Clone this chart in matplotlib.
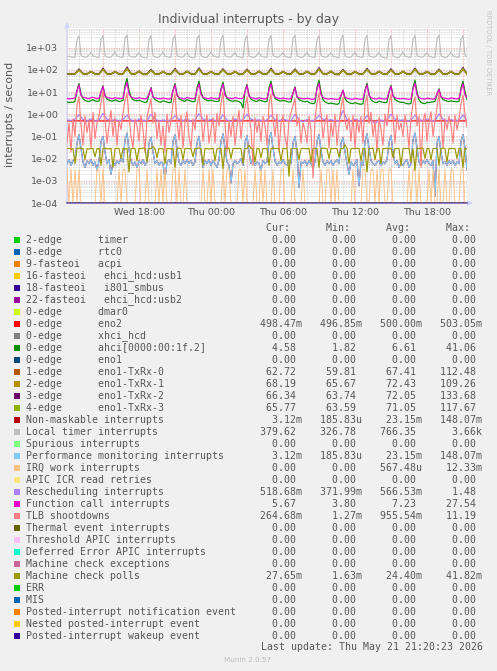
import numpy as np
import matplotlib
matplotlib.use("Agg")
import matplotlib.pyplot as plt
from matplotlib.patches import Rectangle

W, H = 497, 671

# ---- legend / stats ------------------------------------------------------ #
labels = [
    "2-edge      timer", "8-edge      rtc0", "9-fasteoi   acpi",
    "16-fasteoi   ehci_hcd:usb1", "18-fasteoi   i801_smbus",
    "22-fasteoi   ehci_hcd:usb2", "0-edge      dmar0", "0-edge      eno2",
    "0-edge      xhci_hcd", "0-edge      ahci[0000:00:1f.2]", "0-edge      eno1",
    "1-edge      eno1-TxRx-0", "2-edge      eno1-TxRx-1",
    "3-edge      eno1-TxRx-2", "4-edge      eno1-TxRx-3",
    "Non-maskable interrupts", "Local timer interrupts", "Spurious interrupts",
    "Performance monitoring interrupts", "IRQ work interrupts",
    "APIC ICR read retries", "Rescheduling interrupts",
    "Function call interrupts", "TLB shootdowns", "Thermal event interrupts",
    "Threshold APIC interrupts", "Deferred Error APIC interrupts",
    "Machine check exceptions", "Machine check polls", "ERR", "MIS",
    "Posted-interrupt notification event", "Nested posted-interrupt event",
    "Posted-interrupt wakeup event",
]
colors = [
    "#00CC00", "#0066B3", "#FF8000", "#FFCC00", "#330099", "#990099", "#CCFF00",
    "#FF0000", "#808080", "#008F00", "#00487D", "#B35A00", "#B38F00", "#6B006B",
    "#8FB300", "#B30000", "#BEBEBE", "#80FF80", "#80C9FF", "#FFC080", "#FFE680",
    "#AA80FF", "#EE00CC", "#FF8080", "#666600", "#FFBFFF", "#00FFCC", "#CC6699",
    "#999900", "#00CC00", "#0066B3", "#FF8000", "#FFCC00", "#330099",
]
cur = [0, 0, 0, 0, 0, 0, 0, 498.47e-3, 0, 4.58, 0, 62.72, 68.19, 66.34, 65.77,
       3.12e-3, 379.62, 0, 3.12e-3, 0, 0, 518.68e-3, 5.67, 264.68e-3,
       0, 0, 0, 0, 27.65e-3, 0, 0, 0, 0, 0]
mins = [0, 0, 0, 0, 0, 0, 0, 496.85e-3, 0, 1.82, 0, 59.81, 65.67, 63.74, 63.59,
        185.83e-6, 326.78, 0, 185.83e-6, 0, 0, 371.99e-3, 3.80, 1.27e-3,
        0, 0, 0, 0, 1.63e-3, 0, 0, 0, 0, 0]
avgs = [0, 0, 0, 0, 0, 0, 0, 500.00e-3, 0, 6.61, 0, 67.41, 72.43, 72.05, 71.05,
        23.15e-3, 766.35, 0, 23.15e-3, 567.48e-6, 0, 566.53e-3, 7.23, 955.54e-3,
        0, 0, 0, 0, 24.40e-3, 0, 0, 0, 0, 0]
maxs = [0, 0, 0, 0, 0, 0, 0, 503.05e-3, 0, 41.06, 0, 112.48, 109.26, 133.68, 117.67,
        148.07e-3, 3660.0, 0, 148.07e-3, 12.33e-3, 0, 1.48, 27.54, 11.19,
        0, 0, 0, 0, 41.82e-3, 0, 0, 0, 0, 0]

xtick_pos = [6, 12, 18, 24, 30]          # hours after Wed 12:00
xtick_labels = ["Wed 18:00", "Thu 00:00", "Thu 06:00", "Thu 12:00", "Thu 18:00"]
ytick_exp = [-4, -3, -2, -1, 0, 1, 2, 3]
ytick_labels = ["1e-04", "1e-03", "1e-02", "1e-01", "1e+00", "1e+01", "1e+02", "1e+03"]

# ---- series, 10-minute samples -------------------------------------------- #
local_timer = """
400 410 380 370 360 2300 3400 440 390 370 380 470
610 420 390 360 350 2400 3500 430 380 360 370 480
650 430 380 370 360 2600 3660 450 390 380 370 460
600 410 370 350 340 2300 3450 420 380 360 370 490
630 420 380 370 360 2400 3500 440 390 370 380 470
590 400 370 350 350 2500 3550 430 380 360 360 480
640 420 390 370 360 2400 3600 440 390 370 380 470
600 410 380 360 330 2300 3400 430 380 360 370 480
620 420 380 370 360 2400 3500 440 390 370 380 470
610 410 370 360 350 2500 3550 430 380 360 370 480
630 420 380 370 360 2300 3450 440 390 370 380 470
600 410 380 360 350 2400 3600 430 380 360 370 480
620 420 380 370 360 2400 3500 440 390 370 380 470
610 410 370 350 340 2300 3450 420 380 350 360 480
630 420 380 370 360 2400 3500 440 390 370 380 470
600 410 380 360 350 2500 3600 430 380 360 370 480
620 420 380 370 360 2400 3500 450 380
"""
ahci = """
3.6 3.3 3.5 3.4 3.8 12 24 8 5 4.2 3.9 3.7
4.2 4.5 4.0 3.8 3.9 10 19 7 4.8 4.3 4.0 3.9
4.4 4.1 3.7 3.9 4.2 20 41 12 6 4.5 4.2 4.0
4.3 3.9 3.6 3.4 3.6 8 16 6 4.5 4.0 3.6 3.5
4.0 3.8 3.5 3.3 3.4 12 24 8 5 4.4 4.1 3.8
4.5 4.2 3.9 3.6 3.8 15 31 10 5.5 4.6 4.2 4.0
4.3 4.0 3.8 3.7 3.9 14 28 9 5 4.3 4.0 3.8
4.1 3.9 3.7 3.2 1.9 11 22 7 4.8 4.2 3.9 3.7
4.4 4.1 3.8 3.6 3.8 15 31 10 5.2 4.5 4.1 3.9
4.2 4.0 3.7 3.5 3.6 9 17 6 4.6 4.1 3.8 3.6
3.9 3.4 3.1 3.0 3.2 16 34 10 4.5 3.6 3.2 3.0
3.2 3.0 2.9 2.8 3.0 7 12 5 3.8 3.3 3.1 3.0
3.3 3.1 2.9 2.8 3.0 12 25 8 4.5 3.8 3.4 3.3
3.9 3.6 3.4 3.3 3.5 10 20 7 4.6 4.0 3.6 3.4
3.4 3.2 3.0 2.9 3.1 16 34 10 4.4 3.4 3.1 3.0
3.4 3.3 3.5 3.6 3.8 8 14 6 4.6 4.2 3.9 3.7
4.0 3.8 3.7 3.6 3.8 15 31 10 4.58
"""
func_call = """
5.1 4.9 5.0 5.2 5.4 11 21 7 5.8 5.5 5.2 5.0
5.6 5.8 5.3 5.1 5.2 10 18 6.5 5.7 5.4 5.1 5.0
5.5 5.3 5.1 5.0 5.3 14 27.5 8 6.0 5.5 5.2 5.1
5.6 5.2 5.0 4.9 5.1 8 15 6 5.5 5.2 5.0 4.9
5.4 5.1 4.9 4.8 5.0 11 21 7 5.6 5.3 5.0 4.9
5.7 5.3 5.1 5.0 5.2 12 24 7.5 5.9 5.4 5.1 5.0
5.5 5.2 5.0 4.9 5.1 12 23 7 5.7 5.3 5.1 5.0
5.6 5.3 5.1 5.0 5.2 10 20 6.5 5.6 5.3 5.0 4.9
5.5 5.2 5.0 4.9 5.1 12 24 7.5 5.8 5.4 5.1 5.0
5.4 5.1 4.9 4.8 5.0 9 16 6 5.5 5.2 5.0 4.9
5.3 5.0 4.8 4.7 4.9 13 25 7.5 5.6 5.2 4.9 4.8
5.1 4.9 4.8 4.7 4.8 7 12 5.8 5.3 5.0 4.8 4.7
5.2 5.0 4.8 4.7 4.9 11 21 7 5.6 5.2 4.9 4.8
5.4 5.1 4.9 4.8 5.0 10 18 6.5 5.6 5.2 5.0 4.9
5.2 5.0 4.8 4.7 4.9 13 25 7.5 5.5 5.1 4.9 4.8
5.3 5.1 4.9 4.8 5.0 8 13 6 5.5 5.2 5.0 4.9
5.4 5.2 5.0 4.9 5.1 12 24 7.5 5.67
"""
tlb = """
0.05 0.4 0.02 0.6 0.1 2.5 6 0.3 0.04 0.8 0.15 0.5
0.03 1.2 0.08 0.4 0.9 3 11.19 0.6 0.05 0.3 1.5 0.1
0.7 0.04 0.5 0.2 1.1 4 9 0.8 0.1 0.03 0.6 0.3
0.06 0.9 0.2 0.02 0.7 2 5 0.4 1.2 0.08 0.5 0.04
0.3 0.02 1 0.15 0.5 3 8 0.5 0.07 0.9 0.03 0.4
1.3 0.1 0.03 0.6 0.2 2.5 7 1 0.06 0.4 0.9 0.05
0.2 0.7 0.05 1.1 0.3 3 10 0.4 0.02 0.5 0.1 0.8
0.04 0.3 1.5 0.08 0.6 2 6 0.9 0.2 0.005 0.7 0.15
0.5 0.06 0.8 0.3 0.04 3 8 0.6 0.1 1 0.02 0.4
0.9 0.1 0.03 0.5 1.2 2.5 5 0.3 0.7 0.05 0.4 0.2
0.05 0.8 0.2 0.0013 0.6 3 9 1.1 0.08 0.4 0.9 0.03
0.4 0.1 1 0.04 0.3 2 6 0.5 0.2 0.7 0.06 0.9
0.03 0.6 0.15 0.8 0.05 3 7 0.4 1.2 0.1 0.5 0.02
0.7 0.2 0.04 1 0.3 2.5 8 0.6 0.05 0.9 0.2 0.4
0.1 0.9 0.3 0.03 0.7 3 6 0.3 0.8 0.004 0.5 1.1
0.06 0.4 1.3 0.1 0.5 2 9 0.7 0.03 0.6 0.2 0.8
0.3 0.05 0.9 0.2 0.6 3 7 1 0.26
"""
perf_mon = """
0.006 0.009 0.005 0.008 0.01 0.05 0.12 0.03 0.007 0.004 0.008 0.006
0.009 0.005 0.007 0.003 0.008 0.06 0.1 0.02 0.006 0.009 0.002 0.007
0.005 0.008 0.006 0.01 0.007 0.07 0.14 0.025 0.008 0.005 0.007 0.004
0.008 0.006 0.009 0.005 0.007 0.05 0.09 0.02 0.006 0.008 0.005 0.007
0.006 0.0012 0.007 0.009 0.006 0.06 0.12 0.03 0.007 0.005 0.008 0.006
0.009 0.006 0.008 0.005 0.007 0.05 0.1 0.02 0.004 0.008 0.006 0.009
0.005 0.008 0.006 0.004 0.009 0.06 0.13 0.03 0.007 0.005 0.0008 0.006
0.008 0.006 0.007 0.01 0.005 0.05 0.11 0.02 0.006 0.009 0.005 0.007
0.006 0.003 0.008 0.006 0.007 0.07 0.148 0.03 0.008 0.005 0.007 0.006
0.009 0.006 0.005 0.008 0.006 0.05 0.1 0.02 0.0005 0.007 0.006 0.008
0.005 0.008 0.006 0.004 0.007 0.06 0.12 0.025 0.007 0.005 0.008 0.006
0.008 0.005 0.007 0.009 0.006 0.05 0.09 0.02 0.006 0.002 0.007 0.005
0.006 0.009 0.0006 0.007 0.005 0.06 0.13 0.03 0.008 0.006 0.005 0.007
0.008 0.005 0.007 0.006 0.009 0.05 0.11 0.02 0.006 0.008 0.004 0.006
0.005 0.007 0.009 0.004 0.006 0.07 0.14 0.03 0.007 0.005 0.008 0.006
0.009 0.006 0.005 0.008 0.0002 0.05 0.1 0.02 0.006 0.007 0.005 0.008
0.006 0.008 0.005 0.007 0.006 0.06 0.12 0.03 0.0031
"""
mc_polls = """
0.028 0.029 0.027 0.028 0.006 0.028 0.030 0.029 0.028 0.009 0.028 0.027
0.029 0.028 0.012 0.028 0.029 0.005 0.028 0.030 0.028 0.027 0.029 0.004
0.028 0.029 0.028 0.010 0.028 0.027 0.029 0.0025 0.028 0.029 0.028 0.008
0.029 0.028 0.030 0.028 0.007 0.029 0.028 0.035 0.028 0.011 0.029 0.028
0.028 0.006 0.029 0.028 0.027 0.029 0.004 0.028 0.030 0.028 0.009 0.028
0.029 0.028 0.028 0.012 0.029 0.028 0.030 0.028 0.005 0.029 0.028 0.027
0.028 0.029 0.008 0.028 0.029 0.028 0.0035 0.029 0.028 0.030 0.010 0.028
0.029 0.028 0.029 0.028 0.006 0.029 0.028 0.040 0.029 0.028 0.007 0.029
0.028 0.011 0.029 0.028 0.029 0.005 0.028 0.030 0.028 0.029 0.028 0.008
0.029 0.028 0.030 0.0016 0.028 0.029 0.028 0.029 0.009 0.028 0.029 0.028
0.028 0.029 0.007 0.028 0.029 0.028 0.004 0.028 0.030 0.029 0.028 0.010
0.029 0.028 0.029 0.028 0.012 0.029 0.028 0.0418 0.029 0.006 0.028 0.029
0.028 0.029 0.028 0.008 0.029 0.028 0.0025 0.029 0.028 0.030 0.009 0.028
0.029 0.006 0.029 0.028 0.029 0.028 0.030 0.011 0.028 0.029 0.028 0.005
0.028 0.029 0.028 0.029 0.007 0.028 0.003 0.029 0.028 0.030 0.029 0.010
0.029 0.028 0.009 0.028 0.029 0.028 0.005 0.029 0.030 0.028 0.007 0.029
0.028 0.029 0.028 0.010 0.029 0.028 0.004 0.029 0.02765
"""
# IRQ work: 10-minute samples where one event (1/300 s) was seen, rest zero
irq_work_idx = [0, 2, 4, 6, 15, 16, 18, 26, 28, 29, 35, 36, 40, 45, 47, 49,
                53, 54, 56, 59, 68, 71, 73, 78, 80, 81, 86, 87, 89, 94, 97, 99,
                103, 107, 108, 113, 118, 127, 130, 131, 133, 135, 143, 148, 149,
                152, 153, 155, 157, 158, 161, 162, 171, 173, 174, 176, 181, 183,
                186, 189, 192, 193, 197, 198]
irq_work_value = 0.0033
irq_work_len = 201

# ---- series, 20-minute samples ------------------------------------------- #
txrx0 = """
63
62 63 98 64 62 80
63 62 105 63 62 78
62 63 112 64 63 80
61 62 95 63 62 79
62 63 100 64 62 80
63 62 104 63 62 78
62 63 99 64 63 79
61 62 96 63 62 80
62 63 101 64 62 78
63 62 97 63 62 79
62 63 103 64 63 80
61 60 94 62 61 78
62 63 100 64 62 79
63 62 98 63 62 80
62 63 102 64 63 78
61 62 96 63 62 79
62 63 104 62.7
"""
txrx1 = """
68
67 68 96 69 67 84
68 67 101 68 67 83
67 68 109 69 68 85
66 67 95 68 67 84
67 68 99 69 67 85
68 67 103 68 67 83
67 68 98 69 68 84
66 67 97 68 67 85
67 68 100 69 67 83
68 67 96 68 67 84
67 68 102 69 68 85
66 66 95 67 66 83
67 68 99 69 67 84
68 67 97 68 67 85
67 68 101 69 68 83
66 67 96 68 67 84
67 68 103 68.2
"""
txrx2 = """
66
65 66 110 67 65 86
66 65 120 66 65 85
65 66 134 67 66 88
64 65 105 66 65 86
65 66 115 67 65 87
66 65 122 66 65 85
65 66 112 67 66 86
64 65 108 66 65 87
65 66 118 67 65 85
66 65 110 66 65 86
65 66 125 67 66 88
64 64 104 65 64 85
65 66 116 67 65 86
66 65 112 66 65 87
65 66 120 67 66 85
64 65 108 66 65 86
65 66 128 66.3
"""
txrx3 = """
65
64 65 100 66 64 84
65 64 108 65 64 83
64 65 117 66 65 86
63.6 64 98 65 64 84
64 65 104 66 64 85
65 64 110 65 64 83
64 65 102 66 65 84
63.6 64 100 65 64 85
64 65 106 66 64 83
65 64 101 65 64 84
64 65 112 66 65 86
64 63.6 97 64 64 83
64 65 105 66 64 84
65 64 101 65 64 85
64 65 109 66 65 83
63.6 64 100 65 64 84
64 65 114 65.8
"""
resched = """
0.55
0.52 0.6 0.95 0.58 0.5 0.62
0.48 0.55 1.1 0.6 0.52 0.57
0.5 0.58 0.9 0.55 0.45 0.6
0.53 0.5 1.0 0.62 0.48 0.55
0.5 0.56 0.85 0.58 0.52 0.6
0.47 0.55 1.05 0.6 0.5 0.58
0.52 0.5 0.95 0.55 0.46 0.62
0.5 0.57 1.0 0.6 0.52 0.56
0.48 0.55 0.9 0.58 0.5 0.6
0.53 0.5 1.0 0.56 0.45 0.58
0.5 0.55 0.88 0.6 0.52 0.57
0.47 0.52 1.48 0.58 0.5 0.6
0.52 0.5 0.85 0.55 0.372 0.58
0.5 0.56 1.0 0.6 0.52 0.55
0.48 0.55 0.9 0.58 0.5 0.62
0.52 0.5 1.05 0.6 0.5 0.57
0.5 0.55 0.92 0.519
"""
eno2 = """
0.500
0.499 0.501 0.500 0.502 0.499 0.500
0.501 0.500 0.498 0.500 0.501 0.499
0.500 0.502 0.500 0.499 0.501 0.500
0.499 0.500 0.501 0.500 0.503 0.500
0.500 0.499 0.500 0.501 0.500 0.499
0.501 0.500 0.499 0.500 0.502 0.500
0.500 0.501 0.500 0.497 0.500 0.501
0.499 0.500 0.501 0.500 0.499 0.500
0.500 0.502 0.500 0.499 0.500 0.501
0.501 0.500 0.499 0.500 0.501 0.500
0.500 0.499 0.501 0.500 0.500 0.499
0.499 0.500 0.500 0.501 0.499 0.500
0.500 0.501 0.499 0.500 0.502 0.500
0.501 0.500 0.500 0.499 0.500 0.501
0.500 0.499 0.501 0.500 0.500 0.499
0.499 0.500 0.500 0.501 0.500 0.500
0.500 0.501 0.499 0.498
"""

SPAN = 400 * 300 / 3600.0      # 400 px of 5-minute steps, in hours
FLOOR, TOP = 1e-4, 8e3


def arr(s):
    return np.array(s.split(), dtype=float)


def px(x, y):
    return x / W, 1 - y / H


def si(v):
    if v == 0:
        return f"{0:6.2f} "
    e = int(np.floor(np.log10(abs(v)) / 3))
    return f"{v / 1000.0 ** e:6.2f}{ {-2: 'u', -1: 'm', 0: ' ', 1: 'k'}[e] }"


irq_work = np.zeros(irq_work_len)
irq_work[irq_work_idx] = irq_work_value

# legend index -> (values, samples per hour)
series = {
    7: (arr(eno2), 3), 9: (arr(ahci), 6),
    11: (arr(txrx0), 3), 12: (arr(txrx1), 3), 13: (arr(txrx2), 3), 14: (arr(txrx3), 3),
    15: (arr(perf_mon), 6),   # NMI count equals perf monitoring count
    16: (arr(local_timer), 6), 18: (arr(perf_mon), 6), 19: (irq_work, 6),
    21: (arr(resched), 3), 22: (arr(func_call), 6), 23: (arr(tlb), 6),
    28: (arr(mc_polls), 6),
}

fig = plt.figure(figsize=(W / 100, H / 100), dpi=100, facecolor="#F0F0F0")
top_px = 203 - 22.2 * np.log10(TOP / FLOOR)
ax = fig.add_axes([67 / W, 1 - 203 / H, 400 / W, (203 - top_px) / H])
ax.set_facecolor("white")
ax.set_yscale("log")
ax.set_xlim(0, SPAN)
ax.set_ylim(FLOOR, TOP)
for s in ax.spines.values():
    s.set_visible(False)

# grid: hourly minor, 3-hourly major; log minor/major
dot = (0, (1, 1))
for h in range(0, 34):
    major = h % 3 == 0
    ax.axvline(h, color="#F2A0A0" if major else "#CFCFCF", lw=0.6, ls=dot, zorder=0)
for d in range(-4, 4):
    ax.axhline(10.0 ** d, color="#F2A0A0", lw=0.6, ls=dot, zorder=0)
    for m in range(2, 10):
        if m * 10.0 ** d < TOP:
            ax.axhline(m * 10.0 ** d, color="#CFCFCF", lw=0.6, ls=dot, zorder=0)

# axes with arrows
arrow = dict(arrowstyle="-|>", color="#CFD6F8", lw=0.9, mutation_scale=7,
             shrinkA=0, shrinkB=0)
ax.annotate("", xy=(1.015, 0), xytext=(0, 0), xycoords="axes fraction",
            arrowprops=arrow, annotation_clip=False, zorder=1)
ax.annotate("", xy=(0, 1.03), xytext=(0, 0), xycoords="axes fraction",
            arrowprops=arrow, annotation_clip=False, zorder=1)

# data, drawn in legend order like rrdtool (zero values sit on the floor)
zero_rows = [i for i in range(len(colors)) if i not in series]
for i, col in enumerate(colors):
    if i in series:
        v, per_h = series[i]
        t = np.arange(len(v)) / per_h
        lw = 0.65 if i == 19 else 0.85
        ax.plot(t, np.maximum(v, FLOOR), color=col, lw=lw, zorder=2)
    elif i == zero_rows[-1]:
        ax.plot([0, SPAN], [FLOOR, FLOOR], color=col, lw=1.3, alpha=0.5,
                zorder=3, clip_on=False)
    else:
        ax.plot([0, SPAN], [FLOOR, FLOOR], color=col, lw=0.9, zorder=2)

ax.set_xticks(xtick_pos)
ax.set_xticklabels(xtick_labels)
ax.set_yticks([10.0 ** e for e in ytick_exp])
ax.set_yticklabels(ytick_labels)
ax.minorticks_off()
ax.tick_params(axis="x", length=0, pad=3.5, labelsize=6.8, labelcolor="#555555")
ax.tick_params(axis="y", length=0, pad=6.2, labelsize=6.8, labelcolor="#555555")

fig.text(*px(248, 19.5), "Individual interrupts - by day", ha="center",
         va="center", fontsize=9, color="#5A5A5A")
fig.text(*px(10, 114), "interrupts / second", ha="center", va="center",
         rotation=90, fontsize=8, color="#555555")
fig.text(*px(488, 53), "RRDTOOL / TOBI OETIKER", ha="center", va="center",
         rotation=270, fontsize=4.8, color="#C4C4C4")

# legend
mono = dict(family="DejaVu Sans Mono", fontsize=7.14, color="#555555",
            ha="left", va="center")
fig.text(*px(26.3, 228.3), " " * 40 + "Cur:      Min:      Avg:      Max:", **mono)
for r, lab in enumerate(labels):
    y = 239.7 + 12 * r
    fig.patches.append(Rectangle(px(14, y + 3), 6 / W, 6 / H, transform=fig.transFigure,
                                 facecolor=colors[r], edgecolor="none"))
    row = f"{lab:<39}{si(cur[r])}   {si(mins[r])}   {si(avgs[r])}   {si(maxs[r])}"
    fig.text(*px(26.3, y), row, **mono)
fig.text(*px(483, 647.3), "Last update: Thu May 21 21:20:23 2026",
         **{**mono, "ha": "right"})
fig.text(*px(248, 660.3), "Munin 2.0.57", ha="center", va="center",
         fontsize=5.2, color="#BBBBBB")

fig.savefig("out.png", dpi=100, facecolor=fig.get_facecolor())
